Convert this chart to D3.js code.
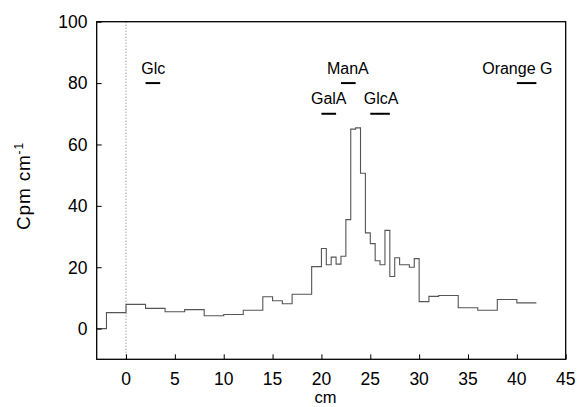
<!DOCTYPE html>
<html>
<head>
<meta charset="utf-8">
<script src="https://cdn.jsdelivr.net/npm/d3@7"></script>
<style>
  html, body { margin: 0; padding: 0; background: #fff; }
  svg text { font-family: "Liberation Sans", Arial, sans-serif; fill: #000; }
</style>
</head>
<body>
<svg id="chart" width="577" height="407"></svg>
<script>
// Radioactivity profile along the paper strip (step histogram of cut segments)
const binStart = [-3, -2, 0, 2, 4, 6, 8, 10, 12, 14, 15, 16, 17, 19, 20,
                  20.5, 21, 21.5, 22, 22.5, 23, 23.5, 24, 24.5, 25,
                  25.5, 26, 26.5, 27, 27.5, 28, 29, 29.5, 30, 31,
                  32, 34, 36, 38, 40];
const lastBinEnd = 42;
const cpm = [0, 5.2, 7.9, 6.6, 5.5, 6.2, 4.2, 4.6, 6.0, 10.4, 9.1, 8.1, 11.2, 20.2, 26.1,
             20.8, 23.3, 21.0, 23.6, 35.5, 65.0, 65.4, 50.6, 31.2, 27.7,
             22.1, 20.8, 32.0, 17.0, 23.1, 20.8, 20.0, 22.8, 8.8, 10.5,
             10.8, 6.8, 6.0, 9.5, 8.4];

// Marker standards: name, migration range (cm), plotted level, label centre (cm)
const markerNames = ["Glc", "GalA", "ManA", "GlcA", "Orange G"];
const markerFrom  = [2, 20, 22, 25, 40];
const markerTo    = [3.5, 21.5, 23.5, 27, 42];
const markerLevel = [80, 70, 80, 70, 80];
const markerLabelAt = [2.8, 20.75, 22.7, 26.1, 40.05];

const xTicks = [0, 5, 10, 15, 20, 25, 30, 35, 40, 45];
const yTicks = [0, 20, 40, 60, 80, 100];

const svg = d3.select("#chart");
const plotL = 96.7, plotR = 565.7, plotT = 21.7, plotB = 359.3;

const x = d3.scaleLinear().domain([-3, 45]).range([plotL, plotR]);
const y = d3.scaleLinear().domain([-10, 100]).range([plotB, plotT]);

// dotted origin line
svg.append("line")
  .attr("x1", x(0)).attr("x2", x(0))
  .attr("y1", y(100)).attr("y2", y(-10))
  .attr("stroke", "#777").attr("stroke-width", 1)
  .attr("stroke-dasharray", "1,2");

// step profile
const pts = binStart.map((s, i) => [s, cpm[i]]);
pts.push([lastBinEnd, cpm[cpm.length - 1]]);
const line = d3.line().x(d => x(d[0])).y(d => y(d[1])).curve(d3.curveStepAfter);
svg.append("path")
  .attr("d", line(pts))
  .attr("fill", "none")
  .attr("stroke", "#555")
  .attr("stroke-width", 1.1);

// axes with inward ticks
const xAxis = svg.append("g").attr("transform", `translate(0,${plotB})`)
  .call(d3.axisTop(x).tickValues(xTicks).tickSize(5).tickFormat(() => ""));
xAxis.select(".domain").remove();
xAxis.selectAll("line").attr("stroke", "#000");

const yAxis = svg.append("g").attr("transform", `translate(${plotL},0)`)
  .call(d3.axisRight(y).tickValues(yTicks).tickSize(5).tickFormat(() => ""));
yAxis.select(".domain").remove();
yAxis.selectAll("line").attr("stroke", "#000");

// frame
svg.append("rect")
  .attr("x", plotL).attr("y", plotT)
  .attr("width", plotR - plotL).attr("height", plotB - plotT)
  .attr("fill", "none").attr("stroke", "#000").attr("stroke-width", 1.3);

// tick labels
svg.append("g").selectAll("text").data(xTicks).join("text")
  .attr("x", d => x(d)).attr("y", 385)
  .attr("text-anchor", "middle")
  .style("font-size", "17.5px")
  .text(d => d);

svg.append("g").selectAll("text").data(yTicks).join("text")
  .attr("x", 87.5).attr("y", d => y(d) + 6.3)
  .attr("text-anchor", "end")
  .style("font-size", "17.5px")
  .text(d => d);

// axis titles
svg.append("text")
  .attr("x", 325.5).attr("y", 403)
  .attr("text-anchor", "middle")
  .style("font-size", "16.5px")
  .text("cm");

const yTitle = svg.append("text")
  .attr("transform", "translate(30,186) rotate(-90)")
  .attr("text-anchor", "middle")
  .style("font-size", "19px")
  .style("letter-spacing", "0.8px");
yTitle.append("tspan").text("Cpm cm");
yTitle.append("tspan").attr("dy", -7).style("font-size", "12px").text("-1");

// marker bars and names
const markers = markerNames.map((n, i) => ({
  name: n, from: markerFrom[i], to: markerTo[i], level: markerLevel[i], at: markerLabelAt[i]
}));
const mg = svg.append("g");
mg.selectAll("line").data(markers).join("line")
  .attr("x1", d => x(d.from)).attr("x2", d => x(d.to))
  .attr("y1", d => y(d.level)).attr("y2", d => y(d.level))
  .attr("stroke", "#000").attr("stroke-width", 2);
mg.selectAll("text").data(markers).join("text")
  .attr("x", d => x(d.at)).attr("y", d => y(d.level) - 9.4)
  .attr("text-anchor", "middle")
  .style("font-size", "16px")
  .text(d => d.name);
</script>
</body>
</html>
